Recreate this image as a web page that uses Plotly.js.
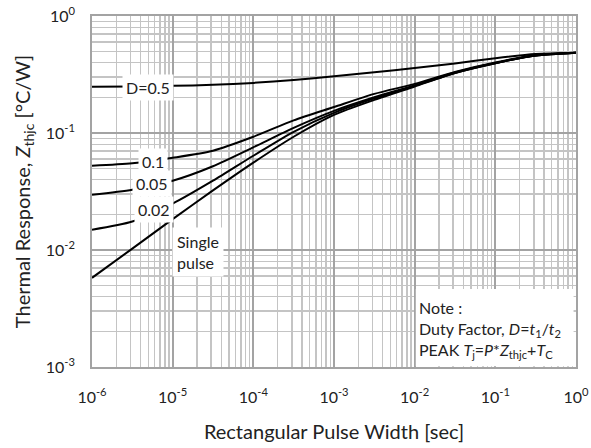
<!DOCTYPE html>
<html>
<head>
<meta charset="utf-8">
<script src="https://cdn.plot.ly/plotly-3.0.1.min.js"></script>
<style>
html,body{margin:0;padding:0;background:#fff;}
#chart{width:591px;height:448px;}
</style>
</head>
<body>
<div id="chart"></div>
<script>
// Pulse width (sec)
var pulseWidth = [1e-6, 3.16e-6, 1e-5, 3.16e-5, 1e-4, 3.16e-4, 1e-3, 3.16e-3, 1e-2, 3.16e-2, 1e-1, 3.16e-1, 1];
// Zthjc (°C/W) per duty factor
var zD05    = [0.249, 0.250, 0.253, 0.258, 0.268, 0.284, 0.305, 0.330, 0.360, 0.393, 0.436, 0.474, 0.486];
var zD01    = [0.0525, 0.0551, 0.0614, 0.0705, 0.0928, 0.1283, 0.1667, 0.216, 0.263, 0.333, 0.401, 0.462, 0.486];
var zD005   = [0.0297, 0.0328, 0.0391, 0.0520, 0.0755, 0.1107, 0.1547, 0.202, 0.255, 0.329, 0.397, 0.460, 0.486];
var zD002   = [0.0149, 0.0175, 0.0249, 0.0391, 0.0639, 0.1024, 0.1487, 0.198, 0.253, 0.326, 0.395, 0.460, 0.486];
var zSingle = [0.00578, 0.01028, 0.01836, 0.0323, 0.0558, 0.0929, 0.1428, 0.192, 0.250, 0.326, 0.395, 0.460, 0.486];

var xTickVals = [1e-6, 1e-5, 1e-4, 1e-3, 1e-2, 1e-1, 1];
var xTickText = ['10<sup>-6</sup>', '10<sup>-5</sup>', '10<sup>-4</sup>', '10<sup>-3</sup>', '10<sup>-2</sup>', '10<sup>-1</sup>', '10<sup>0</sup>'];
var yTickVals = [1e-3, 1e-2, 1e-1, 1];
var yTickText = ['10<sup>-3</sup>', '10<sup>-2</sup>', '10<sup>-1</sup>', '10<sup>0</sup>'];
var minorMult = [2, 3, 4, 5, 6, 7, 8, 9];

var xMinor = [], yMinor = [];
xTickVals.slice(0, -1).forEach(function (d) { minorMult.forEach(function (m) { xMinor.push(d * m); }); });
yTickVals.slice(0, -1).forEach(function (d) { minorMult.forEach(function (m) { yMinor.push(d * m); }); });

var FONT = 'Lato, "Open Sans", sans-serif';
function curve(y, name) {
  return {x: pulseWidth, y: y, name: name, type: 'scatter', mode: 'lines',
          line: {color: '#000', width: 2, shape: 'spline', smoothing: 0.7}, hoverinfo: 'skip'};
}
var data = [curve(zD05, 'D=0.5'), curve(zD01, '0.1'), curve(zD005, '0.05'), curve(zD002, '0.02'), curve(zSingle, 'Single pulse')];

// label positions are in log10 units (log axes)
function lab(txt, lx, ly, extra) {
  var a = {x: lx, y: ly, xref: 'x', yref: 'y', text: txt, showarrow: false,
           bgcolor: '#fff', borderpad: 3, font: {family: FONT, size: 16, color: '#222'}};
  for (var k in extra) a[k] = extra[k];
  return a;
}

var layout = {
  width: 591, height: 448,
  margin: {l: 92, r: 15, t: 16, b: 81},
  paper_bgcolor: '#fff', plot_bgcolor: '#fff',
  showlegend: false,
  font: {family: FONT, color: '#222'},
  xaxis: {
    type: 'log', range: [-6, 0],
    tickmode: 'array', tickvals: xTickVals, ticktext: xTickText,
    tickfont: {family: FONT, size: 16, color: '#222'},
    ticks: '', ticklabelstandoff: 15,
    showgrid: true, gridcolor: '#a3a3a3', gridwidth: 1.8,
    minor: {tickmode: 'array', tickvals: xMinor, showgrid: true, gridcolor: '#c4c4c4', gridwidth: 1.4, ticks: ''},
    showline: true, linecolor: '#a3a3a3', linewidth: 1.8, mirror: true,
    zeroline: false,
    title: {text: 'Rectangular Pulse Width [sec]', font: {family: FONT, size: 20, color: '#222'}, standoff: 20}
  },
  yaxis: {
    type: 'log', range: [-3, 0],
    tickmode: 'array', tickvals: yTickVals, ticktext: yTickText,
    tickfont: {family: FONT, size: 16, color: '#222'},
    ticks: '', ticklabelstandoff: 12,
    showgrid: true, gridcolor: '#a3a3a3', gridwidth: 1.8,
    minor: {tickmode: 'array', tickvals: yMinor, showgrid: true, gridcolor: '#c4c4c4', gridwidth: 1.4, ticks: ''},
    showline: true, linecolor: '#a3a3a3', linewidth: 1.8, mirror: true,
    zeroline: false,
    title: {text: 'Thermal Response, <i>Z</i><sub>thjc</sub> [°C/W]', font: {family: FONT, size: 20, color: '#222'}, standoff: 10}
  },
  shapes: [
    {type: 'rect', xref: 'paper', yref: 'paper', x0: 0.669, x1: 0.995, y0: 0.002, y1: 0.222,
     fillcolor: '#fff', line: {width: 0}, layer: 'above'}
  ],
  annotations: [
    lab('D=0.5', -5.306, -0.608, {}),
    lab('0.1', -5.250, -1.246, {}),
    lab('0.05', -5.256, -1.433, {}),
    lab('0.02', -5.232, -1.655, {}),
    lab('Single<br>pulse', -4.686, -2.014, {align: 'left', borderpad: 4}),
    {xref: 'paper', yref: 'paper', x: 0.672, y: 0.203, xanchor: 'left', yanchor: 'top',
     showarrow: false, align: 'left',
     text: 'Note :<br>Duty Factor, <i>D</i>=<i>t</i><sub>1</sub>/<i>t</i><sub>2</sub><br>PEAK <i>T</i><sub>j</sub>=<i>P</i>*<i>Z</i><sub>thjc</sub>+<i>T</i><sub>C</sub>',
     font: {family: FONT, size: 16, color: '#222'}}
  ]
};

Plotly.newPlot('chart', data, layout, {displayModeBar: false, staticPlot: true});
</script>
</body>
</html>
